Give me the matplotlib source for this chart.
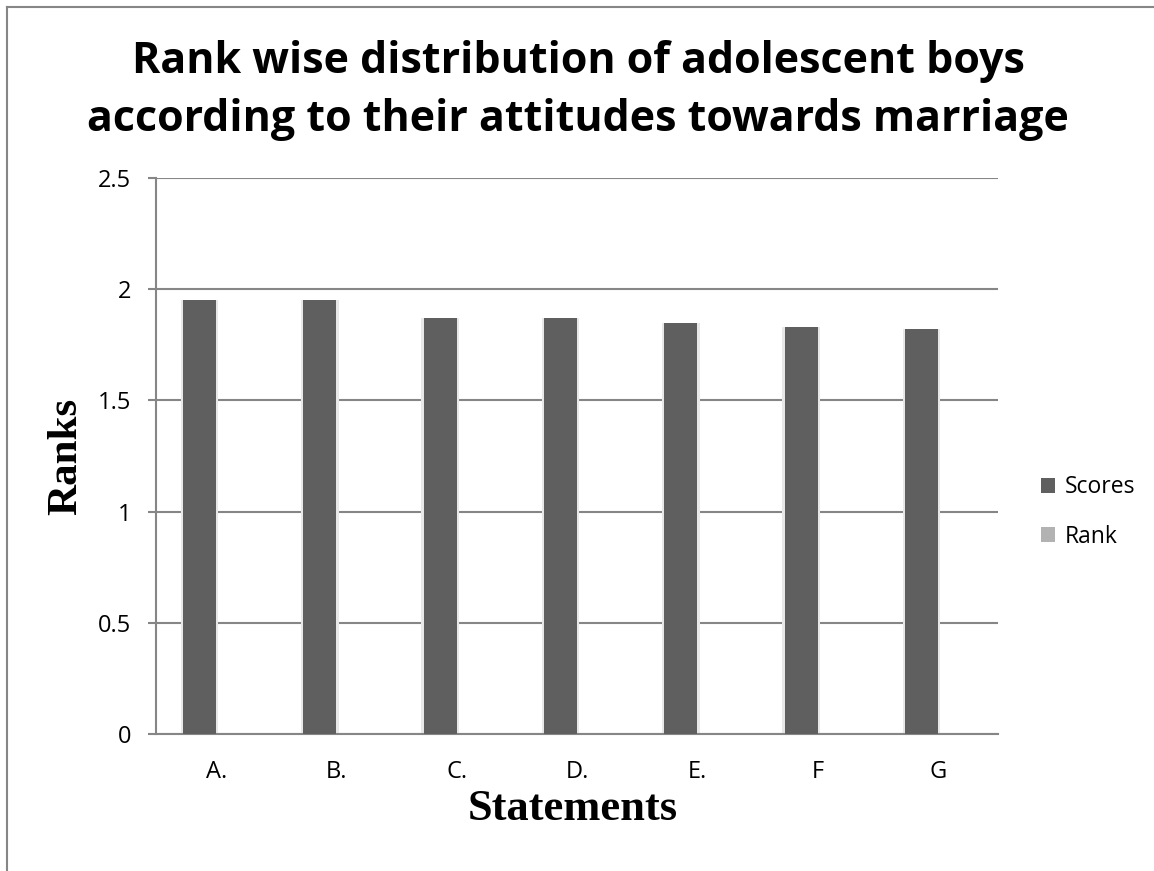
import matplotlib.pyplot as plt
from matplotlib.lines import Line2D
import numpy as np

# Data
statements = ["A.", "B.", "C.", "D.", "E.", "F", "G"]
scores = [1.95, 1.95, 1.87, 1.87, 1.85, 1.83, 1.82]
rank = [0, 0, 0, 0, 0, 0, 0]
y_ticks = [0, 0.5, 1, 1.5, 2, 2.5]
y_tick_labels = ["0", "0.5", "1", "1.5", "2", "2.5"]

W, H = 1154, 871
fig = plt.figure(figsize=(W / 100, H / 100), dpi=100)
fig.patch.set_facecolor('white')

# outer chart border (left and top edges visible)
fig.add_artist(Line2D([7 / W, 7 / W], [0, 1 - 7 / H], transform=fig.transFigure,
                      color='#868686', linewidth=1.5))
fig.add_artist(Line2D([7 / W, 1], [1 - 7 / H, 1 - 7 / H], transform=fig.transFigure,
                      color='#868686', linewidth=1.5))

ax = fig.add_axes([156 / W, 1 - 734 / H, (998 - 156) / W, (734 - 178) / H])

x = np.arange(len(statements))
w = 0.274

# soft halo behind bars, like the Excel shadow
ax.bar(x - w / 2, scores, width=w * 1.14, color='#e8e8e8', zorder=2)
ax.bar(x - w / 2, scores, width=w, color='#5f5f5f', zorder=3, label='Scores')
ax.bar(x + w / 2, rank, width=w, color='#b2b2b2', zorder=3, label='Rank')

ax.set_xlim(-0.5, len(statements) - 0.5)
ax.set_ylim(0, 2.5)
ax.set_yticks(y_ticks)
ax.set_yticklabels(y_tick_labels)
ax.set_xticks(x)
ax.set_xticklabels(statements)

ax.yaxis.grid(True, color='#868686', linewidth=1.5, zorder=0)
ax.set_axisbelow(True)
for side in ['top', 'right']:
    ax.spines[side].set_visible(False)
for side in ['left', 'bottom']:
    ax.spines[side].set_color('#868686')
    ax.spines[side].set_linewidth(1.5)

ax.tick_params(axis='y', length=6, width=1.5, color='#868686', pad=12,
               labelsize=17)
ax.tick_params(axis='x', length=0, pad=19, labelsize=17)
for lab in ax.get_xticklabels() + ax.get_yticklabels():
    lab.set_fontfamily('Open Sans')

# axis titles
fig.text(66 / W, 1 - 456 / H, 'Ranks', rotation=90, ha='center', va='center',
         fontfamily='Liberation Serif', fontweight='bold', fontsize=31)
fig.text(573 / W, 1 - 809 / H, 'Statements', ha='center', va='center',
         fontfamily='Liberation Serif', fontweight='bold', fontsize=32)

# chart title, two lines
fig.text(578 / W, 1 - 73 / H, 'Rank wise distribution of adolescent boys',
         ha='center', va='baseline', fontfamily='Open Sans', fontweight='bold',
         fontsize=31)
fig.text(578 / W, 1 - 131 / H, 'according to their attitudes towards marriage',
         ha='center', va='baseline', fontfamily='Open Sans', fontweight='bold',
         fontsize=31)

leg = ax.legend(loc='center left', bbox_to_anchor=(1041 / W, 1 - 512 / H),
                bbox_transform=fig.transFigure, frameon=False, borderpad=0,
                borderaxespad=0, prop={'family': 'Open Sans', 'size': 16.5},
                handlelength=0.6, handleheight=0.6, handletextpad=0.45,
                labelspacing=1.1)

fig.savefig('out.png', dpi=100)
